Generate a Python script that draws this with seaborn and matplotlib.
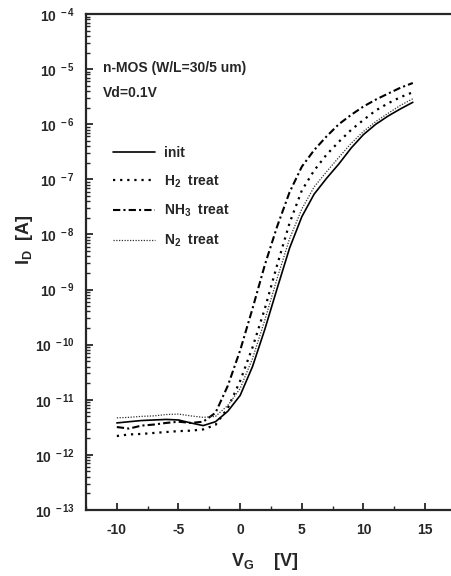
import numpy as np
import pandas as pd
import matplotlib
matplotlib.use("Agg")
import matplotlib.pyplot as plt
import matplotlib.ticker as mticker
import seaborn as sns

# gate voltage sweep [V]
vg = list(range(-10, 15))

# drain current [A]
i_init = [3.8e-12, 4.0e-12, 4.2e-12, 4.3e-12, 4.4e-12, 4.3e-12, 3.8e-12, 3.4e-12, 4.0e-12,
          6.2e-12, 1.2e-11, 4.0e-11, 1.9e-10, 1.05e-9, 5.6e-9, 2.1e-8, 5.4e-8, 1.04e-7,
          1.9e-7, 3.7e-7, 6.5e-7, 1.0e-6, 1.41e-6, 1.9e-6, 2.5e-6]
i_h2 = [2.2e-12, 2.35e-12, 2.4e-12, 2.5e-12, 2.6e-12, 2.7e-12, 2.75e-12, 2.9e-12, 3.5e-12,
        7.1e-12, 2.2e-11, 8.9e-11, 4.5e-10, 2.8e-9, 1.6e-8, 6.3e-8, 1.45e-7, 2.8e-7,
        4.8e-7, 7.9e-7, 1.2e-6, 1.78e-6, 2.4e-6, 3.1e-6, 3.8e-6]
i_nh3 = [3.2e-12, 3.0e-12, 3.4e-12, 3.55e-12, 3.8e-12, 4.0e-12, 3.8e-12, 4.0e-12, 5.8e-12,
         1.8e-11, 7.9e-11, 4.5e-10, 2.8e-9, 1.4e-8, 5.8e-8, 1.7e-7, 3.4e-7, 6.0e-7,
         1.0e-6, 1.48e-6, 2.1e-6, 2.8e-6, 3.6e-6, 4.6e-6, 5.6e-6]
i_n2 = [4.7e-12, 4.8e-12, 5.0e-12, 5.1e-12, 5.4e-12, 5.5e-12, 5.1e-12, 4.8e-12, 5.0e-12,
        7.9e-12, 1.6e-11, 5.6e-11, 2.8e-10, 1.6e-9, 8.3e-9, 2.9e-8, 7.3e-8, 1.37e-7,
        2.5e-7, 4.5e-7, 7.4e-7, 1.12e-6, 1.58e-6, 2.2e-6, 2.9e-6]

labels = ["init", "H$_2$  treat", "NH$_3$  treat", "N$_2$  treat"]

df = pd.DataFrame({"VG": vg * 4,
                   "ID": i_init + i_h2 + i_nh3 + i_n2,
                   "treat": sum([[l] * len(vg) for l in labels], [])})

sns.set_style("ticks")
plt.rcParams["font.family"] = ["Liberation Sans", "DejaVu Sans"]
plt.rcParams["font.weight"] = "bold"
plt.rcParams["axes.unicode_minus"] = False
plt.rcParams["mathtext.fontset"] = "custom"
plt.rcParams["mathtext.rm"] = "Liberation Sans:bold"
plt.rcParams["mathtext.it"] = "Liberation Sans:bold"
plt.rcParams["mathtext.bf"] = "Liberation Sans:bold"
plt.rcParams["mathtext.default"] = "rm"

fig = plt.figure(figsize=(4.52, 5.76), dpi=100)
ax = fig.add_axes([86 / 452, 66 / 576, 370 / 452, 496 / 576])

styles = {
    labels[0]: dict(linestyle="-", linewidth=1.2, color="black"),
    labels[1]: dict(linestyle=(0, (1, 2.2)), linewidth=1.6, color="black"),
    labels[2]: dict(linestyle=(0, (3.5, 1.5, 1, 1.5)), linewidth=1.5, color="black"),
    labels[3]: dict(linestyle=(0, (1, 1.2)), linewidth=0.9, color="#333333"),
}
for lab in labels:
    sub = df[df["treat"] == lab]
    sns.lineplot(data=sub, x="VG", y="ID", ax=ax, label=lab, **styles[lab])

ax.set_yscale("log")
ax.set_ylim(1e-13, 1e-4)
ax.set_xlim(-12.5, 17.5)
ax.set_xticks([-10, -5, 0, 5, 10, 15])
ax.xaxis.set_minor_locator(mticker.MultipleLocator(2.5))
ax.yaxis.set_major_locator(mticker.LogLocator(base=10, numticks=20))
ax.yaxis.set_minor_locator(mticker.LogLocator(base=10, subs=np.arange(2, 10), numticks=20))
ax.yaxis.set_minor_formatter(mticker.NullFormatter())
ax.yaxis.set_major_formatter(mticker.FuncFormatter(
    lambda v, p: r"$10^{\ %d}$" % round(np.log10(v))))

ax.tick_params(axis="both", which="major", direction="in", length=5, width=1.3,
               labelsize=10, pad=6)
ax.tick_params(axis="both", which="minor", direction="in", length=3, width=1.0)
ax.tick_params(axis="x", which="major", pad=9)
ax.tick_params(axis="y", which="major", labelsize=10, pad=8)
for s in ["left", "bottom", "top"]:
    ax.spines[s].set_linewidth(1.6)
ax.spines["right"].set_visible(False)
ax.set_xlabel("")
ax.set_ylabel("")

fig.text(25 / 452, 1 - 240 / 576, "I$_D$  [A]", rotation=90, ha="center", va="center",
         fontsize=13)
fig.text(265 / 452, 1 - 562 / 576, "V$_G$    [V]", ha="center", va="center", fontsize=13)
fig.text(103 / 452, 1 - 68 / 576, "n-MOS (W/L=30/5 um)", ha="left", va="center", fontsize=10)
fig.text(103 / 452, 1 - 93 / 576, "Vd=0.1V", ha="left", va="center", fontsize=10)

ax.legend(loc="upper left", bbox_to_anchor=(113 / 452, 1 - 146 / 576),
          bbox_transform=fig.transFigure, frameon=False, fontsize=10,
          handlelength=3.0, handletextpad=0.7, labelspacing=0.95, borderpad=0,
          borderaxespad=0)

fig.savefig("out.png", dpi=100)
